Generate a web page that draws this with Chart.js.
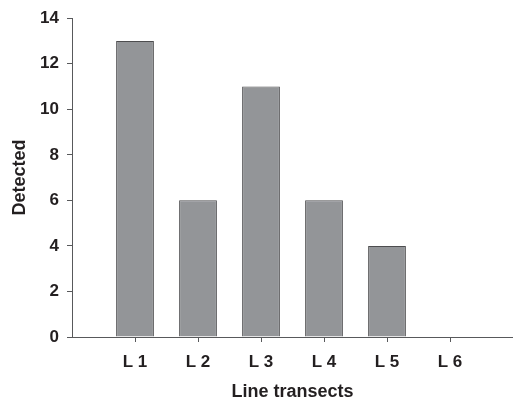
<!DOCTYPE html>
<html>
<head>
<meta charset="utf-8">
<script src="https://cdn.jsdelivr.net/npm/chart.js@4/dist/chart.umd.min.js"></script>
<style>
  html, body { margin: 0; padding: 0; background: #fff; }
  #wrap { width: 513px; height: 401px; }
</style>
</head>
<body>
<div id="wrap"><canvas id="c" width="513" height="401"></canvas></div>
<script>
const categories = ["L 1", "L 2", "L 3", "L 4", "L 5", "L 6"];
const detected = [13, 6, 11, 6, 4, 0];
const yTicks = [0, 2, 4, 6, 8, 10, 12, 14];

const ink = "#231f20";
const axisGray = "#58595b";
const fam = "'Liberation Sans', Arial, sans-serif";

// bars sit at x = 1..6 on a 0..7 axis, like the original plot
const points = categories.map((c, i) => ({ x: i + 1, y: detected[i] }));

new Chart(document.getElementById("c").getContext("2d"), {
    type: "bar",
    data: {
        datasets: [{
            data: points,
            backgroundColor: "#939598",
            borderColor: "#4d4d4f",
            borderWidth: 1,
            barPercentage: 0.6,
            categoryPercentage: 1
        }]
    },
    options: {
        responsive: false,
        animation: false,
        layout: { padding: { top: 8.6, left: 9.5, right: 0, bottom: 0 } },
        plugins: { legend: { display: false }, tooltip: { enabled: false } },
        scales: {
            x: {
                type: "linear",
                min: 0,
                max: 7,
                offset: false,
                afterBuildTicks: s => { s.ticks = categories.map((c, i) => ({ value: i + 1 })); },
                ticks: {
                    autoSkip: false,
                    maxRotation: 0,
                    color: ink,
                    font: { family: fam, weight: "bold", size: 17, lineHeight: 1 },
                    padding: 12,
                    callback: v => categories[v - 1] || ""
                },
                grid: { display: true, offset: false, drawOnChartArea: false, drawTicks: true, tickLength: 5, lineWidth: 1, color: axisGray },
                border: { display: true, color: axisGray, width: 1 },
                title: { display: true, text: "Line transects", color: ink, font: { family: fam, weight: "bold", size: 18, lineHeight: 1 }, padding: { top: 0, bottom: 0 } }
            },
            y: {
                min: 0,
                max: 14,
                afterBuildTicks: s => { s.ticks = yTicks.map(v => ({ value: v })); },
                ticks: { color: ink, font: { family: fam, weight: "bold", size: 17 }, padding: 8 },
                grid: { display: true, drawOnChartArea: false, drawTicks: true, tickLength: 5, lineWidth: 1, color: axisGray },
                border: { display: true, color: axisGray, width: 1 },
                title: { display: true, text: "Detected", color: ink, font: { family: fam, weight: "bold", size: 18 }, padding: { top: 0, bottom: 1 } }
            }
        }
    }
});
</script>
</body>
</html>
